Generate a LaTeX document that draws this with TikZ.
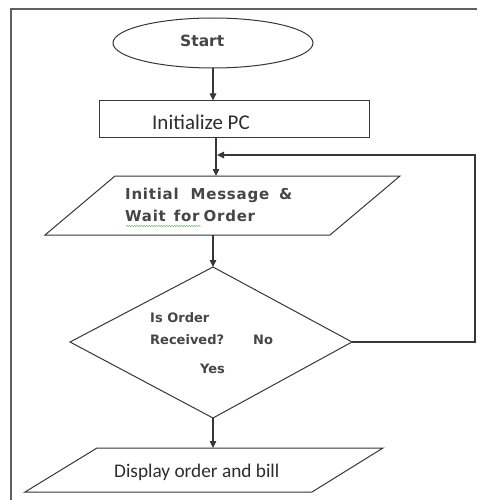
\documentclass[tikz,border=0pt]{standalone}
\usepackage{fontspec}
\setmainfont{Carlito}
\newfontfamily\uifont{DejaVu Sans}
\usetikzlibrary{arrows.meta,shapes.geometric,decorations.pathmorphing}
\definecolor{inkline}{RGB}{55,55,55}
\definecolor{inktext}{RGB}{45,45,45}
\definecolor{softtext}{RGB}{70,70,70}
\definecolor{spellgreen}{RGB}{120,190,120}
\tikzset{
  shapeline/.style={draw=inkline, line width=1pt},
  flowarrow/.style={draw=inkline, line width=1.1pt, -{Triangle[width=6.5pt,length=7pt]}},
  framestyle/.style={draw=gray!75!black, line width=1.3pt},
  lbl/.style={inner sep=0pt, text=inktext, anchor=base west},
  boldlbl/.style={lbl, text=softtext},
}
\begin{document}
\begin{tikzpicture}[x=1pt,y=-1pt]
\useasboundingbox (0,0) rectangle (477,500);
\fill[white] (0,0) rectangle (477,500);

% page frame (top and left edges visible)
\draw[framestyle] (477,9) -- (11,9) -- (11,500);

% start terminal
\node[ellipse, shapeline, minimum width=200pt, minimum height=50pt] (start) at (213,43) {};
\node[boldlbl, font=\uifont\bfseries\fontsize{15.5}{17}\selectfont] (starttxt) at (180,47) {Start};

% initialise step
\node[rectangle, shapeline, minimum width=270pt, minimum height=36pt, inner sep=0pt] (init) at (234,119) {};
\node[lbl, font=\fontsize{21}{23}\selectfont] (inittxt) at (152,129) {Initialize PC};

% input/output: initial message
\coordinate (pA1) at (115,176); \coordinate (pA2) at (400,176);
\coordinate (pA3) at (330,235); \coordinate (pA4) at (45,235);
\draw[shapeline] (pA1) -- (pA2) -- (pA3) -- (pA4) -- cycle;
\coordinate (msgtop) at (216,176);
\coordinate (msgbot) at (213,235);
\tikzset{mfont/.style={font=\uifont\bfseries\fontsize{15}{17}\selectfont\addfontfeatures{LetterSpace=5}}}
\node[boldlbl, mfont] (msg1) at (125,199) {Initial\hspace{12pt}Message\hspace{10pt}\&};
\node[boldlbl, mfont] (msg2) at (125,221) {Wait\hspace{8pt}for\hspace{4pt}Order};
\draw[spellgreen, line width=0.5pt, decorate, decoration={snake, amplitude=0.7pt, segment length=2.5pt}] (126,226) -- (201,226);

% decision
\coordinate (dT) at (213,267); \coordinate (dR) at (352,342);
\coordinate (dB) at (213,418); \coordinate (dL) at (70,342);
\draw[shapeline] (dT) -- (dR) -- (dB) -- (dL) -- cycle;
\tikzset{qfont/.style={font=\uifont\bfseries\fontsize{13}{15}\selectfont}}
\node[boldlbl, qfont] (q1) at (150,322) {Is Order};
\node[boldlbl, qfont] (q2) at (150,344) {Received?};
\node[boldlbl, qfont] (no) at (253,344) {No};
\node[boldlbl, qfont] (yes) at (200,373) {Yes};

% input/output: display
\coordinate (pB1) at (97,448); \coordinate (pB2) at (383,448);
\coordinate (pB3) at (312,492); \coordinate (pB4) at (25,492);
\draw[shapeline] (pB1) -- (pB2) -- (pB3) -- (pB4) -- cycle;
\coordinate (disptop) at (213,448);
\node[lbl, font=\fontsize{19.3}{21}\selectfont] (disptxt) at (114,477) {Display order and bill};

% connectors
\draw[flowarrow] (start.south) -- (start.south |- init.north);
\draw[flowarrow] (init.south -| msgtop) -- (msgtop);
\draw[flowarrow] (msgbot) -- (dT);
\draw[flowarrow] (dB) -- (disptop);
\coordinate (loopR) at (475,342);
\coordinate (loopT) at (475,155);
\coordinate (loopEnd) at (217,155);
\draw[flowarrow] (dR) -- (loopR) -- (loopT) -- (loopEnd);
\end{tikzpicture}
\end{document}
